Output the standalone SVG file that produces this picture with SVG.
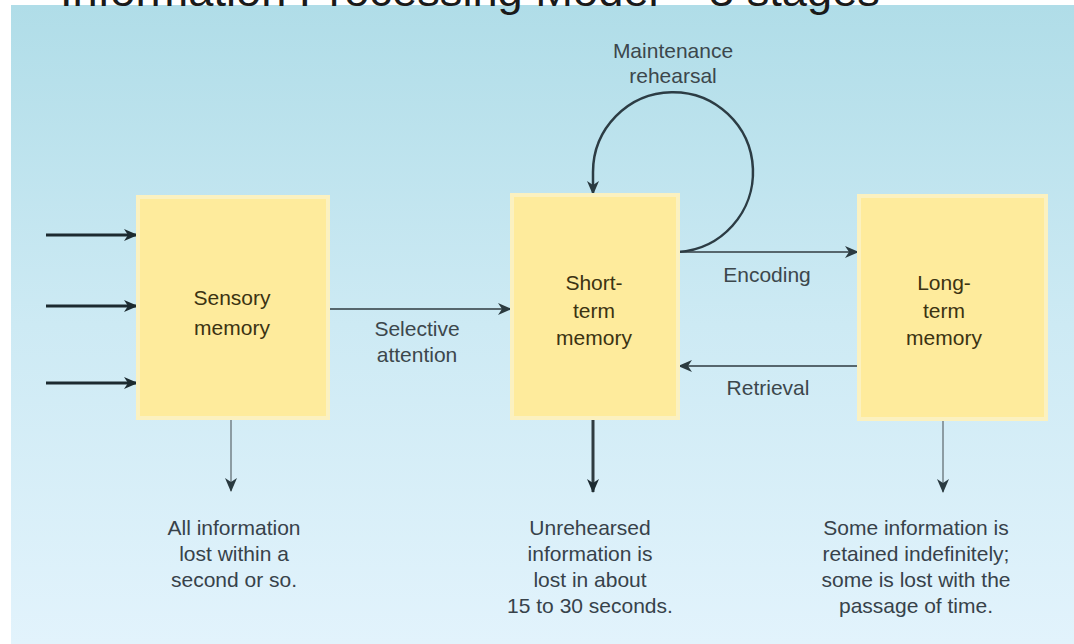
<svg xmlns="http://www.w3.org/2000/svg" width="1074" height="644" viewBox="0 0 1074 644">
  <defs>
    <linearGradient id="bg" x1="0" y1="0" x2="0" y2="1">
      <stop offset="0" stop-color="#B0DDE8"/>
      <stop offset="0.5" stop-color="#CDEAF4"/>
      <stop offset="1" stop-color="#E2F3FC"/>
    </linearGradient>
    <marker id="hDark" markerUnits="userSpaceOnUse" markerWidth="14" markerHeight="12" viewBox="0 0 14 12" refX="13" refY="6" orient="auto">
      <path d="M0,0 L14,6 L0,12 L4,6 z" fill="#1c2a30"/>
    </marker>
    <marker id="hGrey" markerUnits="userSpaceOnUse" markerWidth="14" markerHeight="12" viewBox="0 0 14 12" refX="13" refY="6" orient="auto">
      <path d="M0,0 L14,6 L0,12 L4,6 z" fill="#2a3a40"/>
    </marker>
    <style>
      .box { fill: #FEEB9C; stroke: #FBF1C0; stroke-width: 4; }
      .btxt { font-family: "Liberation Sans", Arial, sans-serif; font-size: 21px; fill: #3b3312; text-anchor: middle; }
      .lbl { font-family: "Liberation Sans", Arial, sans-serif; font-size: 21px; fill: #3c474c; text-anchor: middle; }
      .note { font-family: "Liberation Sans", Arial, sans-serif; font-size: 21px; fill: #37424a; text-anchor: middle; }
      .in { stroke: #1c2a30; stroke-width: 3; fill: none; }
      .mid { stroke: #56666d; stroke-width: 2; fill: none; }
      .dark { stroke: #2f3b40; stroke-width: 3; fill: none; }
      .light { stroke: #8c9ca3; stroke-width: 2; fill: none; }
      .loop { stroke: #2c3c44; stroke-width: 2.5; fill: none; }
    </style>
  </defs>

  <rect x="0" y="0" width="1074" height="644" fill="#ffffff"/>
  <rect id="panel" x="11" y="5" width="1063" height="639" fill="url(#bg)"/>

  <text x="60" y="6" font-family="Liberation Sans, Arial, sans-serif" font-size="42" fill="#1a1a1a" textLength="820" lengthAdjust="spacingAndGlyphs">Information Processing Model – 3 stages</text>

  <g id="connectors">
    <line class="in" x1="46" y1="235" x2="137" y2="235" marker-end="url(#hDark)"/>
    <line class="in" x1="46" y1="306" x2="137" y2="306" marker-end="url(#hDark)"/>
    <line class="in" x1="46" y1="383" x2="137" y2="383" marker-end="url(#hDark)"/>
    <line class="mid" x1="328" y1="309" x2="511" y2="309" marker-end="url(#hGrey)"/>
    <line class="mid" x1="678" y1="252" x2="858" y2="252" marker-end="url(#hGrey)"/>
    <line class="mid" x1="859" y1="366" x2="679" y2="366" stroke="#3c4c52" marker-end="url(#hGrey)"/>
    <path class="loop" d="M 678 252 A 80 80 0 1 0 593 172 L 593 194" marker-end="url(#hGrey)"/>
    <line class="light" x1="231" y1="420" x2="231" y2="491" marker-end="url(#hGrey)"/>
    <line class="dark" x1="593" y1="420" x2="593" y2="492" marker-end="url(#hDark)"/>
    <line class="light" x1="943" y1="421" x2="943" y2="492" marker-end="url(#hGrey)"/>
  </g>

  <g id="sensory">
    <rect class="box" x="138" y="197" width="190" height="221"/>
    <text class="btxt" x="232" y="305">Sensory</text>
    <text class="btxt" x="232" y="335">memory</text>
  </g>

  <g id="shortterm">
    <rect class="box" x="512" y="195" width="166" height="223"/>
    <text class="btxt" x="594" y="290">Short-</text>
    <text class="btxt" x="594" y="318">term</text>
    <text class="btxt" x="594" y="345">memory</text>
  </g>

  <g id="longterm">
    <rect class="box" x="859" y="196" width="187" height="223"/>
    <text class="btxt" x="944" y="290">Long-</text>
    <text class="btxt" x="944" y="318">term</text>
    <text class="btxt" x="944" y="345">memory</text>
  </g>

  <g id="labels">
    <text class="lbl" x="673" y="58">Maintenance</text>
    <text class="lbl" x="673" y="83">rehearsal</text>
    <text class="lbl" x="417" y="336">Selective</text>
    <text class="lbl" x="417" y="362">attention</text>
    <text class="lbl" x="767" y="282">Encoding</text>
    <text class="lbl" x="768" y="395">Retrieval</text>
  </g>

  <g id="notes">
    <text class="note" x="234" y="535">All information</text>
    <text class="note" x="234" y="561">lost within a</text>
    <text class="note" x="234" y="587">second or so.</text>

    <text class="note" x="590" y="535">Unrehearsed</text>
    <text class="note" x="590" y="561">information is</text>
    <text class="note" x="590" y="587">lost in about</text>
    <text class="note" x="590" y="613">15 to 30 seconds.</text>

    <text class="note" x="916" y="535">Some information is</text>
    <text class="note" x="916" y="561">retained indefinitely;</text>
    <text class="note" x="916" y="587">some is lost with the</text>
    <text class="note" x="916" y="613">passage of time.</text>
  </g>
</svg>
